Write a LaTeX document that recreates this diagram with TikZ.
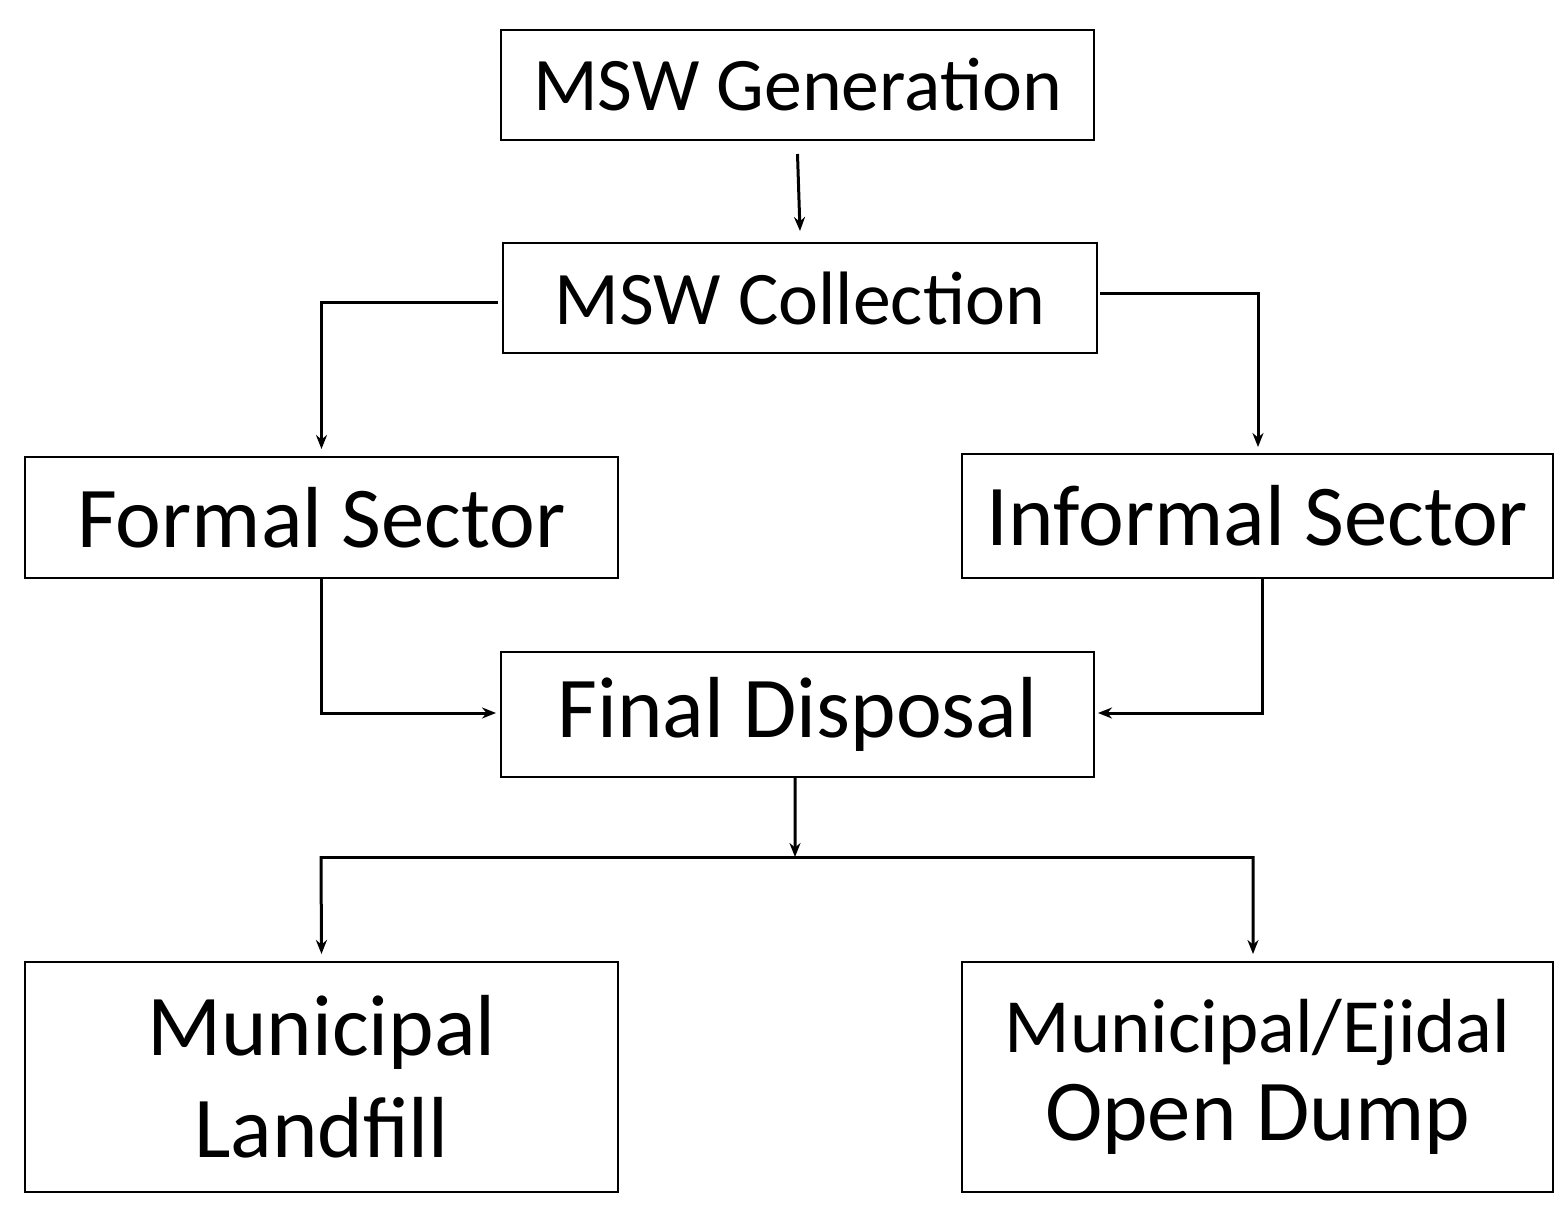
\documentclass[tikz,border=0pt]{standalone}
\usepackage{fontspec}
\setmainfont{Carlito}
\usetikzlibrary{arrows.meta}
\begin{document}
\begin{tikzpicture}[x=1bp,y=-1bp,
 box/.style={draw,line width=2bp,minimum width=#1,inner sep=0pt,align=center},
 ln/.style={line width=3bp},
 ar/.style={ln,-{Stealth[length=14bp,width=11bp]}}]
\useasboundingbox (0,0) rectangle (1568,1210);
\node[box=593bp,minimum height=110bp,font=\fontsize{76}{80}\selectfont] (gen) at (797.5,85) {MSW Generation};
\node[box=594bp,minimum height=110bp,font=\fontsize{76}{80}\selectfont] (col) at (800,298) {MSW Collection};
\node[box=593bp,minimum height=121bp,font=\fontsize{87}{90}\selectfont] (for) at (321.5,517.5) {Formal Sector};
\node[box=591bp,minimum height=124bp,font=\fontsize{87}{90}\selectfont] (inf) at (1257.5,516) {Informal Sector};
\node[box=593bp,minimum height=125bp,font=\fontsize{87}{90}\selectfont] (fin) at (797.5,714.5) {Final Disposal};
\node[box=593bp,minimum height=230bp,font=\fontsize{87}{102}\selectfont] (lan) at (321.5,1077) {Municipal\\Landfill};
\node[box=591bp,minimum height=230bp] (dum) at (1257.5,1077) {{\fontsize{77}{80}\selectfont Municipal/Ejidal}\\[18bp]{\fontsize{87}{90}\selectfont Open Dump}};
\coordinate (j) at (795,857);
\draw[ar] ([yshift=-13bp]gen.south) -- ([yshift=11bp]col.north);
\draw[ar] ([xshift=-4bp,yshift=-4bp]col.west) -| ([yshift=7bp]for.north);
\draw[ar] ([xshift=2bp,yshift=5bp]col.east) -| ([xshift=0.5bp,yshift=6bp]inf.north);
\draw[ar] (for.south) |- ([xshift=-4bp,yshift=1.5bp]fin.west);
\draw[ar] ([xshift=4.5bp]inf.south) |- ([xshift=3bp,yshift=1.5bp]fin.east);
\draw[ar] ([xshift=-2.5bp]fin.south) -- (j);
\draw[ln] (321,857) -- (1253,857);
\draw[ar] (321,856) -- ([yshift=7bp]lan.north);
\draw[ar] (1253,856) -- ([xshift=-4.5bp,yshift=7bp]dum.north);
\end{tikzpicture}
\end{document}
